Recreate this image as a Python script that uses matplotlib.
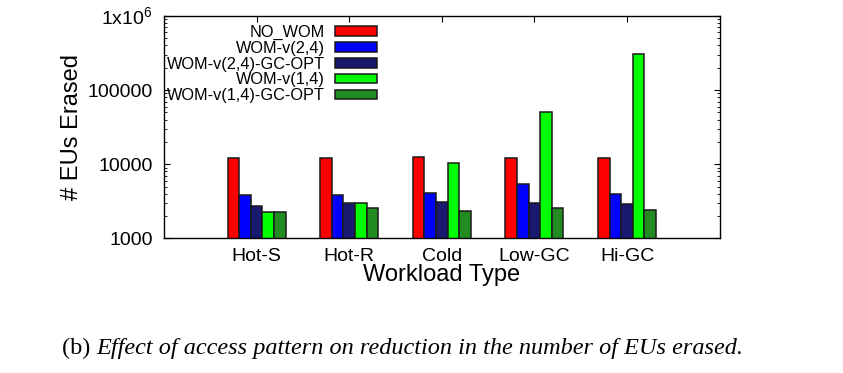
import matplotlib
matplotlib.use("Agg")
import matplotlib.pyplot as plt
import numpy as np

plt.rcParams['font.family'] = ['Liberation Sans', 'DejaVu Sans']
plt.rcParams['mathtext.fontset'] = 'custom'
plt.rcParams['mathtext.rm'] = 'Liberation Sans'

workloads = ["Hot-S", "Hot-R", "Cold", "Low-GC", "Hi-GC"]
series = ["NO_WOM", "WOM-v(2,4)", "WOM-v(2,4)-GC-OPT", "WOM-v(1,4)", "WOM-v(1,4)-GC-OPT"]
colors = ["#ff0000", "#0000ff", "#191970", "#00ff00", "#228b22"]

no_wom = [12300, 12300, 12600, 12300, 12300]
wom_24 = [3880, 3800, 4080, 5350, 4000]
wom_24_gc = [2770, 2990, 3060, 2990, 2900]
wom_14 = [2270, 2990, 10500, 51000, 303000]
wom_14_gc = [2270, 2560, 2330, 2560, 2410]
values = [no_wom, wom_24, wom_24_gc, wom_14, wom_14_gc]

fig = plt.figure(figsize=(8.43, 3.73), dpi=100)
ax = fig.add_axes([0.1945, 0.3611, 0.6592, 0.5960])

x = np.arange(len(workloads))
w = 0.125
for i, (name, vals, c) in enumerate(zip(series, values, colors)):
    ax.bar(x + (i - 2) * w, vals, width=w, color=c, edgecolor="#1a1a1a",
           linewidth=1.1, label=name, zorder=2)

ax.set_yscale("log")
ax.set_ylim(1000, 1e6)
ax.set_xlim(-1, 5)
ax.set_yticks([1000, 10000, 100000, 1000000])
ax.set_yticklabels(["1000", "10000", "100000", r"1x10$^{6}$"])
ax.set_xticks(x)
ax.set_xticklabels(workloads)

ax.tick_params(axis="both", which="both", direction="in", top=True, right=True)
ax.tick_params(axis="both", which="major", length=4.5, width=0.8, labelsize=14)
ax.tick_params(axis="y", which="major", pad=8)
ax.tick_params(axis="x", which="major", pad=7)
ax.tick_params(axis="y", which="minor", length=2.5, width=0.6)
ax.tick_params(axis="x", which="minor", bottom=False, top=False)
for s in ax.spines.values():
    s.set_linewidth(1.0)

ax.set_xlabel("Workload Type", fontsize=17, labelpad=-1)
ax.set_ylabel("# EUs Erased", fontsize=17, labelpad=3)

ax.legend(loc="upper right", bbox_to_anchor=(0.383, 0.96), frameon=False,
          markerfirst=False, fontsize=11.7, handlelength=2.6, handleheight=0.5,
          handletextpad=0.6, labelspacing=0.05, borderpad=0, borderaxespad=0)

# caption: "(b)" upright, the rest italic
cap = fig.text(0.0735, 0.051, "(b) ", fontsize=17.5, family="Liberation Serif",
               va="baseline", ha="left")
ax.annotate("Effect of access pattern on reduction in the number of EUs erased.",
            xy=(1, 0), xycoords=cap, va="bottom", ha="left", fontsize=17.5,
            family="Liberation Serif", style="italic", annotation_clip=False)

fig.savefig("out.png", dpi=100)
